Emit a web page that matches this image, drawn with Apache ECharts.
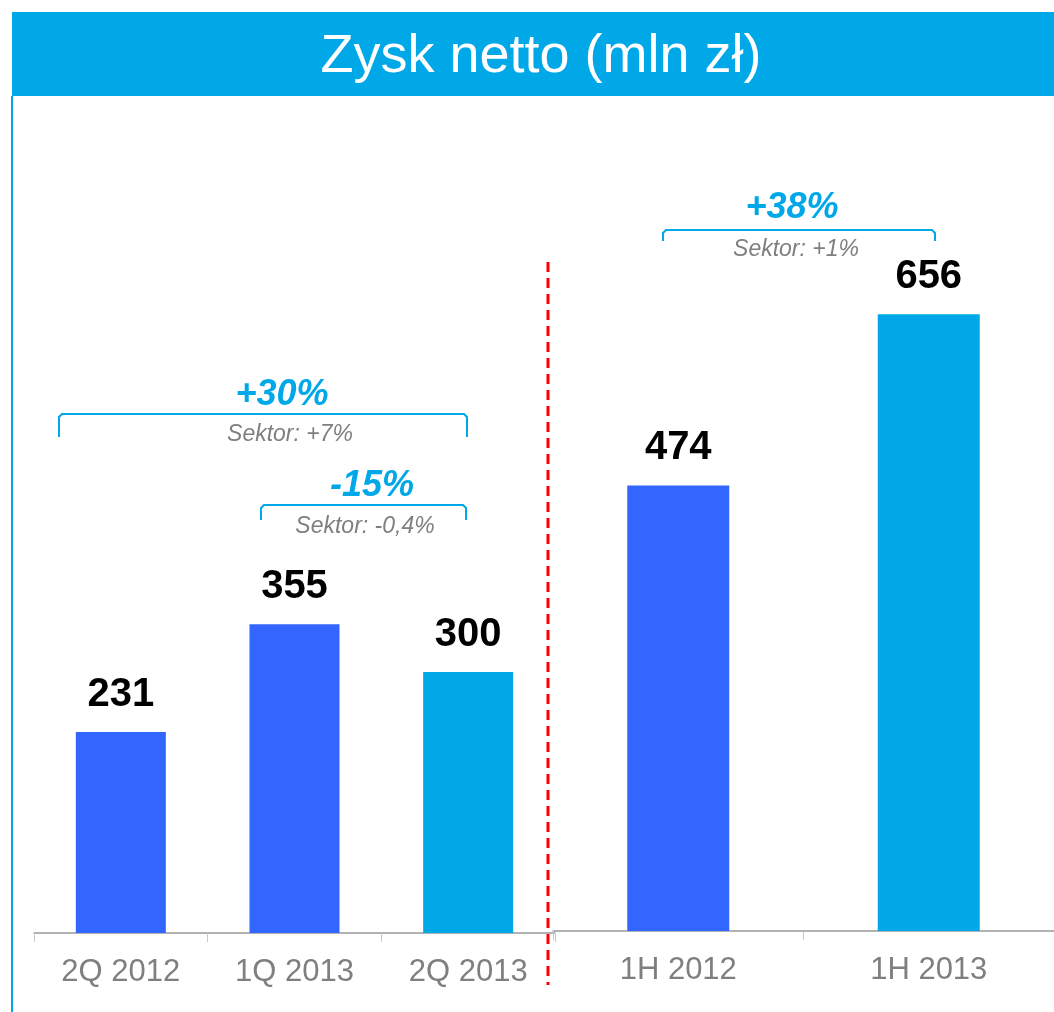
<!DOCTYPE html>
<html>
<head>
<meta charset="utf-8">
<script src="https://cdn.jsdelivr.net/npm/echarts@6/dist/echarts.min.js"></script>
<style>
  html, body { margin: 0; padding: 0; background: #fff; }
  #chart { width: 1054px; height: 1012px; }
</style>
</head>
<body>
<div id="chart"></div>
<script>
// dane kwartalne i półroczne
const quarterCategories = ['2Q 2012', '1Q 2013', '2Q 2013']
const quarterValues = [231, 355, 300]
const halfCategories = ['1H 2012', '1H 2013']
const halfValues = [474, 656]

// adnotacje zmian
const changeLabels = ['+30%', '-15%', '+38%']
const sectorLabels = ['Sektor: +7%', 'Sektor: -0,4%', 'Sektor: +1%']

const titleText = 'Zysk netto (mln zł)'

const DARK = '#3366ff'
const LIGHT = '#00a8e8'
const GREY = '#7f7f7f'
const FONT = '"Liberation Sans", Arial, sans-serif'

const chart = echarts.init(document.getElementById('chart'))

// kolor słupka: ostatni w grupie jasny
const barColor = (len) => (p) => (p.dataIndex === len - 1 ? LIGHT : DARK)

const valueLabel = {
  show: true,
  position: 'top',
  distance: 17,
  color: '#000',
  fontSize: 40,
  fontWeight: 'bold',
  fontFamily: FONT
}

const categoryAxis = (idx, data) => ({
  type: 'category',
  gridIndex: idx,
  data: data,
  axisLine: { lineStyle: { color: '#999', width: 1.5 } },
  axisTick: { show: true, length: 9, lineStyle: { color: '#c8c8c8' } },
  axisLabel: { color: GREY, fontSize: 31, margin: 24, fontFamily: FONT }
})

// klamra z opisem
const bracket = (x1, x2, yTop, yBottom, main, mainX, mainY, sub, subX, subY) => [
  {
    type: 'polyline',
    shape: { points: [[x1, yBottom], [x1, yTop + 3], [x1 + 3, yTop], [x2 - 3, yTop], [x2, yTop + 3], [x2, yBottom]] },
    style: { stroke: LIGHT, lineWidth: 2, fill: null }
  },
  {
    type: 'text',
    x: mainX, y: mainY,
    style: {
      text: main, fill: LIGHT, fontSize: 36, fontWeight: 'bold', fontStyle: 'italic',
      fontFamily: FONT, align: 'center', verticalAlign: 'middle'
    }
  },
  {
    type: 'text',
    x: subX, y: subY,
    style: {
      text: sub, fill: GREY, fontSize: 23, fontStyle: 'italic',
      fontFamily: FONT, align: 'center', verticalAlign: 'middle'
    }
  }
]

chart.setOption({
  animation: false,
  backgroundColor: '#fff',
  grid: [
    { left: 34, width: 521, top: 63, bottom: 79 },
    { left: 553, width: 504, top: 85, bottom: 81 }
  ],
  xAxis: [categoryAxis(0, quarterCategories), categoryAxis(1, halfCategories)],
  yAxis: [
    { type: 'value', gridIndex: 0, min: 0, max: 1000, show: false },
    { type: 'value', gridIndex: 1, min: 0, max: 900, show: false }
  ],
  series: [
    {
      type: 'bar',
      xAxisIndex: 0,
      yAxisIndex: 0,
      data: quarterValues,
      barWidth: 90,
      itemStyle: { color: barColor(quarterValues.length) },
      label: valueLabel
    },
    {
      type: 'bar',
      xAxisIndex: 1,
      yAxisIndex: 1,
      data: halfValues,
      barWidth: 102,
      itemStyle: { color: barColor(halfValues.length) },
      label: valueLabel
    }
  ],
  graphic: [
    { type: 'rect', shape: { x: 12, y: 12, width: 1042, height: 84 }, style: { fill: LIGHT } },
    {
      type: 'text', x: 541, y: 57,
      style: { text: titleText, fill: '#fff', fontSize: 54, fontFamily: FONT, align: 'center', verticalAlign: 'middle' }
    },
    { type: 'line', shape: { x1: 12, y1: 96, x2: 12, y2: 1012 }, style: { stroke: LIGHT, lineWidth: 2 } },
    { type: 'line', shape: { x1: 548, y1: 262, x2: 548, y2: 985 }, style: { stroke: '#ff0000', lineWidth: 3, lineDash: [10, 6] } },
    ...bracket(59, 467, 414, 437, changeLabels[0], 282, 395, sectorLabels[0], 290, 435),
    ...bracket(261, 466, 505, 520, changeLabels[1], 372, 486, sectorLabels[1], 365, 527),
    ...bracket(663, 935, 230, 241, changeLabels[2], 792, 208, sectorLabels[2], 796, 250)
  ]
})
</script>
</body>
</html>
